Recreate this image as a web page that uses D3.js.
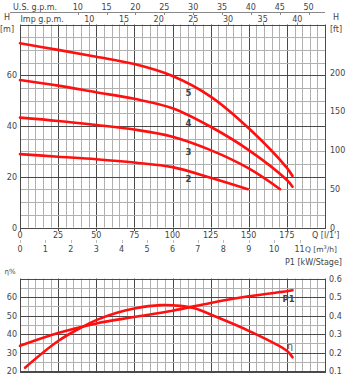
<!DOCTYPE html>
<html><head><meta charset="utf-8">
<script src="https://cdn.jsdelivr.net/npm/d3@7"></script>
<style>body{margin:0;background:#fff}svg{display:block}text{font-family:"DejaVu Sans",sans-serif;fill:#444}</style>
</head><body><svg id="c" width="350" height="380"></svg>
<script>
// ---- data ----
const qTicks = [0,25,50,75,100,125,150,175];
const m3hTicks = [0,1,2,3,4,5,6,7,8,9,10,11];
const usTicks = [10,15,20,25,30,35,40,45,50];
const impTicks = [10,15,20,25,30,35,40];
const hTicks = [0,20,40,60];
const ftTicks = [0,50,100,150,200];
const etaTicks = [20,30,40,50,60];
const p1Ticks = [0.1,0.2,0.3,0.4,0.5,0.6];
const stage5 = [[0,72.6],[25,70.0],[50,67.3],[75,64.4],[100,59.7],[125,51.6],[150,39.1],[175,23.5],[178.7,20.3]];
const stage4 = [[0,58.1],[25,55.9],[50,53.3],[75,50.7],[100,47.0],[125,39.7],[150,30.5],[175,18.7],[178.7,16.1]];
const stage3 = [[0,43.3],[25,42.0],[50,40.4],[75,38.6],[100,35.8],[125,30.5],[150,23.3],[170.6,15.1]];
const stage2 = [[0,28.9],[25,27.9],[50,26.9],[75,25.6],[100,23.8],[125,19.6],[149.4,15.1]];
const stageNames = ["5","4","3","2"];
const etaCurve = [[3.3,21.8],[25,36.2],[41,43.9],[50,47.5],[63,51.4],[75,53.8],[92,55.6],[105,55.2],[115,53.8],[125,50.5],[150,41.7],[175,30.9],[178.7,27.4]];
const p1Curve = [[0,0.236],[25,0.305],[50,0.357],[75,0.392],[100,0.426],[125,0.468],[150,0.504],[175,0.531],[178.7,0.536]];

// ---- drawing ----
const svg = d3.select("#c");
const X = d3.scaleLinear().domain([0,200]).range([20,325]);
const Y = d3.scaleLinear().domain([0,80]).range([227.5,24.5]);
const YE = d3.scaleLinear().domain([20,70]).range([371,278.5]);
const YP = d3.scaleLinear().domain([0.1,0.6]).range([371,278.5]);
const MAJ="#4a4a4a", MIN="#b0b0b0";
const px = v => Math.round(v)+0.5;

function grid(yScale, yStep, yMajor, y0, y1){
  const g = svg.append("g");
  for(let q=0;q<=200;q+=5){
    g.append("line").attr("x1",px(X(q))).attr("x2",px(X(q))).attr("y1",yScale(y0)).attr("y2",yScale(y1))
      .attr("stroke", q%25===0?MAJ:MIN).attr("stroke-width",1);
  }
  for(let v=y0; v<=y1+1e-9; v+=yStep){
    const maj = Math.abs(((v-y0)/yMajor) - Math.round((v-y0)/yMajor))<1e-6;
    g.append("line").attr("x1",X(0)).attr("x2",X(200)).attr("y1",px(yScale(v))).attr("y2",px(yScale(v)))
      .attr("stroke", maj?MAJ:MIN).attr("stroke-width",1);
  }
  g.append("rect").attr("x",px(X(0))).attr("y",px(yScale(y1))).attr("width",Math.round(X(200)-X(0)))
    .attr("height",Math.round(yScale(y0)-yScale(y1))).attr("fill","none").attr("stroke",MAJ);
}
grid(Y,5,20,0,80);
grid(YE,5,10,20,70);

const txt = (x,y,s,anchor,size,weight)=>svg.append("text").attr("x",x).attr("y",y).text(s)
  .attr("text-anchor",anchor||"start").style("font-size",(size||8)+"px").style("font-weight",weight||"normal");

// top axes
svg.append("line").attr("x1",10).attr("x2",325).attr("y1",12.5).attr("y2",12.5).attr("stroke","#888");
txt(13,9.5,"U.S. g.p.m.");
usTicks.forEach(v=>{const x=X(v*3.785);txt(x,9.5,v,"middle");
  svg.append("line").attr("x1",px(x)).attr("x2",px(x)).attr("y1",12).attr("y2",15).attr("stroke","#888");});
txt(20.5,22,"Imp g.p.m.");
impTicks.forEach(v=>{const x=X(v*4.546);txt(x,22,v,"middle");
  svg.append("line").attr("x1",px(x)).attr("x2",px(x)).attr("y1",22.5).attr("y2",25).attr("stroke","#888");});
txt(7,20,"H","middle"); txt(7,32,"[m]","middle");
txt(336,20,"H","middle"); txt(336,32,"[ft]","middle");

// left / right main axes
hTicks.forEach(v=>txt(17,Y(v)+3,v,"end"));
ftTicks.forEach(v=>txt(330,Y(v/3.2808)+3,v,"start"));

// bottom axes
qTicks.forEach(v=>{txt(X(v),238,v,"middle");
  svg.append("line").attr("x1",px(X(v))).attr("x2",px(X(v))).attr("y1",228).attr("y2",231).attr("stroke",MAJ);});
txt(312,238,"Q [l/1']");
m3hTicks.forEach(v=>{const x=X(v*16.667);txt(x,252,v,"middle");
  svg.append("line").attr("x1",px(x)).attr("x2",px(x)).attr("y1",240).attr("y2",243).attr("stroke","#bbb");});
svg.append("text").attr("x",305).attr("y",252).style("font-size","7.5px").html('Q [m<tspan dy="-3" style="font-size:5px">3</tspan><tspan dy="3">/h]</tspan>');
txt(342,265,"P1 [kW/Stage]","end");

// lower axes
txt(10,274,"η%","middle",7);
etaTicks.forEach(v=>txt(17,YE(v)+3,v,"end"));
p1Ticks.forEach(v=>txt(329,YP(v)+3,v.toFixed(1),"start"));

// curves
const cv = d3.curveCatmullRom.alpha(0.5);
const lineH = d3.line().x(d=>X(d[0])).y(d=>Y(d[1])).curve(cv);
[stage5,stage4,stage3,stage2].forEach(s=>svg.append("path").attr("d",lineH(s)).attr("fill","none")
  .attr("stroke","#ff1010").attr("stroke-width",2.6).attr("stroke-linecap","round"));
const labelY=[93.3,123.3,151.7,179.3];
stageNames.forEach((n,i)=>txt(188.5,labelY[i]+3,n,"middle",8.5,"bold"));

const lineE = d3.line().x(d=>X(d[0])).y(d=>YE(d[1])).curve(cv);
const lineP = d3.line().x(d=>X(d[0])).y(d=>YP(d[1])).curve(cv);
svg.append("path").attr("d",lineE(etaCurve)).attr("fill","none").attr("stroke","#ff1010").attr("stroke-width",2.6).attr("stroke-linecap","round");
svg.append("path").attr("d",lineP(p1Curve)).attr("fill","none").attr("stroke","#ff1010").attr("stroke-width",2.6).attr("stroke-linecap","round");
txt(288.5,302,"P1","middle",8.5,"bold");
txt(290,349,"η","middle",9);
</script></body></html>
